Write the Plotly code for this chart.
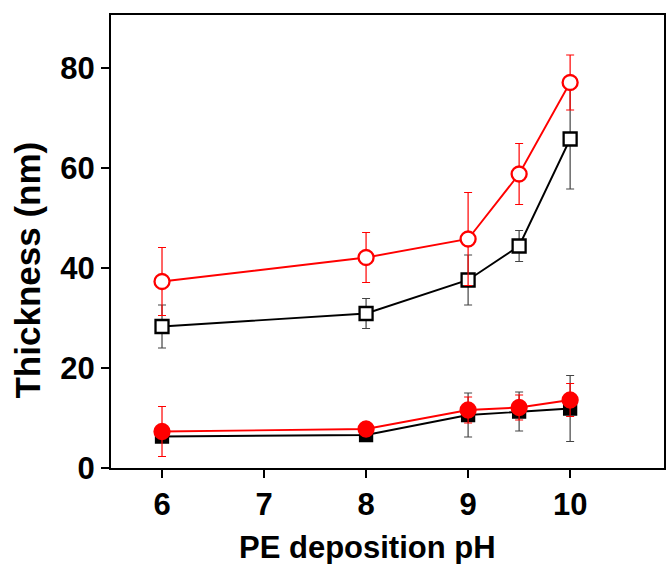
import plotly.graph_objects as go

ph = [6, 8, 9, 9.5, 10]

open_circle = [37.3, 42.1, 45.8, 58.8, 77.1]
open_circle_err = [6.8, 5.0, 9.3, 6.1, 5.5]

open_square = [28.3, 30.9, 37.6, 44.4, 65.8]
open_square_err = [4.3, 3.0, 5.0, 3.1, 10.0]

filled_square = [6.3, 6.6, 10.6, 11.3, 11.9]
filled_square_err = [0.8, 0.8, 4.4, 3.9, 6.6]

filled_circle = [7.3, 7.8, 11.6, 12.1, 13.6]
filled_circle_err = [5.0, 1.0, 2.6, 2.5, 3.3]

x_ticks = [6, 7, 8, 9, 10]
y_ticks = [0, 20, 40, 60, 80]

RED = "#ff0000"
BLK = "#000000"

fig = go.Figure()

def add(y, err, color, errcolor, symbol, fill, size):
    fig.add_trace(go.Scatter(
        x=ph, y=y, mode="lines+markers",
        line=dict(color=color, width=1.9),
        marker=dict(symbol=symbol, size=size, color=fill,
                    line=dict(color=color, width=2.3)),
        error_y=dict(type="data", array=err, visible=True,
                     color=errcolor, thickness=1.2, width=4),
        showlegend=False,
    ))

add(filled_square, filled_square_err, BLK, "#444444", "square", BLK, 12)
add(filled_circle, filled_circle_err, RED, RED, "circle", RED, 15)
add(open_square, open_square_err, BLK, "#444444", "square", "white", 13)
add(open_circle, open_circle_err, RED, RED, "circle", "white", 15)

font_fam = "Liberation Sans, Arial, sans-serif"
FS = 31

fig.update_layout(
    width=667, height=564,
    margin=dict(l=111, r=1, t=15, b=96),
    paper_bgcolor="white", plot_bgcolor="white",
    font=dict(family=font_fam, color="black"),
    xaxis=dict(
        range=[5.5, 10.92], tickvals=x_ticks,
        ticktext=[f"<b>{v}</b>" for v in x_ticks],
        showgrid=False, zeroline=False,
        showline=True, linecolor="black", linewidth=2, mirror=True,
        ticks="outside", ticklen=8, tickwidth=2, tickcolor="black",
        tickfont=dict(size=FS, family=font_fam),
    ),
    yaxis=dict(
        range=[0, 90.6], tickvals=y_ticks,
        ticktext=[f"<b>{v}</b>" for v in y_ticks],
        showgrid=False, zeroline=False,
        showline=True, linecolor="black", linewidth=2, mirror=True,
        ticks="outside", ticklen=8, tickwidth=2, tickcolor="black",
        tickfont=dict(size=FS, family=font_fam),
    ),
    annotations=[
        dict(text="<b>PE deposition pH</b>", xref="paper", yref="paper",
             x=0.463, y=-0.1744, xanchor="center", yanchor="middle",
             showarrow=False, font=dict(size=FS, family=font_fam)),
        dict(text="<b>Thickness (nm)</b>", xref="paper", yref="paper",
             x=-0.151, y=0.437, xanchor="center", yanchor="middle",
             textangle=-90, showarrow=False,
             font=dict(size=35, family=font_fam)),
    ],
)

fig.write_html("out.html")
